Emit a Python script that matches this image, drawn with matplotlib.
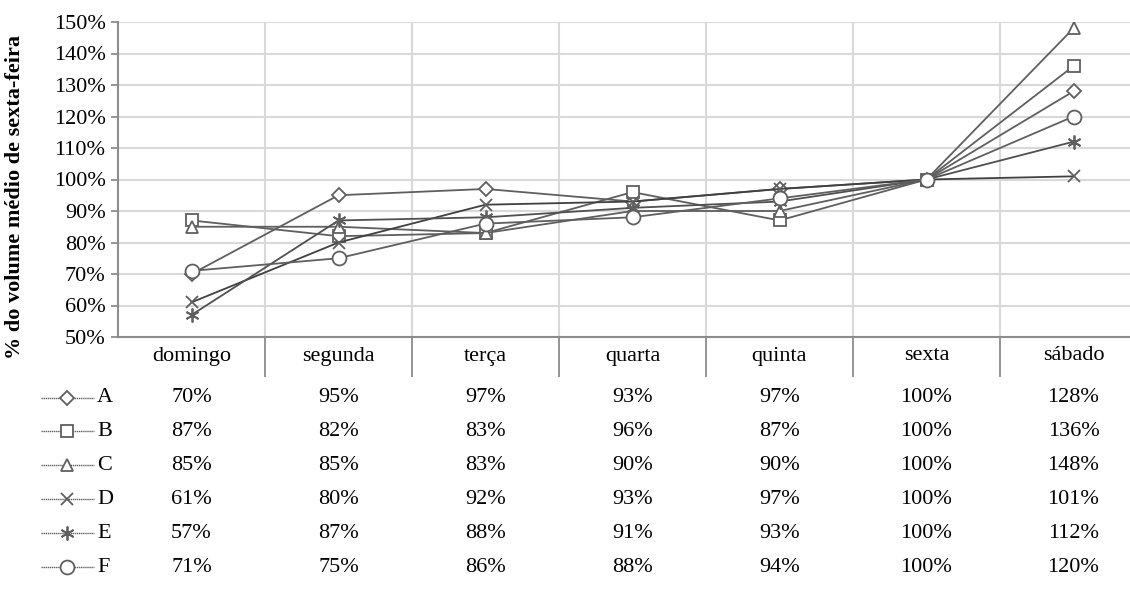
import matplotlib.pyplot as plt
from matplotlib.lines import Line2D
from matplotlib.ticker import FixedLocator

# Dados
dias = ['domingo', 'segunda', 'terça', 'quarta', 'quinta', 'sexta', 'sábado']
series = ['A', 'B', 'C', 'D', 'E', 'F']
val_a = [70, 95, 97, 93, 97, 100, 128]
val_b = [87, 82, 83, 96, 87, 100, 136]
val_c = [85, 85, 83, 90, 90, 100, 148]
val_d = [61, 80, 92, 93, 97, 100, 101]
val_e = [57, 87, 88, 91, 93, 100, 112]
val_f = [71, 75, 86, 88, 94, 100, 120]
valores = [val_a, val_b, val_c, val_d, val_e, val_f]
marcadores = ['D', 's', '^', 'x', (6, 2, 0), 'o']
tamanhos = [7.5, 9, 9, 9, 10, 10]
cores = ['#5f5f5f', '#5f5f5f', '#5f5f5f', '#404040', '#505050', '#5f5f5f']

plt.rcParams['font.family'] = ['Liberation Serif', 'DejaVu Serif']
W, H = 1130, 599
fig = plt.figure(figsize=(W / 100, H / 100), dpi=100)

# eixo (a última coluna passa um pouco da borda direita)
left, right, top, bottom = 118, 1147, 22, 337
ax = fig.add_axes([left / W, 1 - bottom / H, (right - left) / W, (bottom - top) / H])

x = list(range(len(dias)))
for nome, v, m, ms, c in zip(series, valores, marcadores, tamanhos, cores):
    ax.plot(x, v, color=c, lw=1.3, marker=m, ms=ms, mfc='white',
            mec='#5f5f5f', mew=1.3, zorder=3)

ax.set_xlim(-0.5, 6.5)
ax.set_ylim(50, 150)
ax.set_yticks(range(50, 151, 10))
ax.set_yticklabels([f'{t}%' for t in range(50, 151, 10)], fontsize=16)
ax.set_xticks([])
ax.xaxis.set_minor_locator(FixedLocator([i + 0.5 for i in range(6)]))
ax.tick_params(axis='x', which='minor', length=29, width=1.3, color='#8c8c8c')
ax.tick_params(axis='y', length=5, width=1.3, color='#8c8c8c', pad=4)
ax.grid(axis='y', color='#d9d9d9', lw=1.5, zorder=0)
ax.grid(axis='x', which='minor', color='#d9d9d9', lw=1.5, zorder=0)
for s in ['top', 'right']:
    ax.spines[s].set_visible(False)
for s in ['left', 'bottom']:
    ax.spines[s].set_color('#8c8c8c')
    ax.spines[s].set_linewidth(1.5)

fig.text(15 / W, 1 - 197 / H, '% do volume médio de sexta-feira', rotation=90,
         ha='center', va='center', fontsize=16, fontweight='bold')

# tabela de dados
col_w = (right - left) / len(dias)
for i, d in enumerate(dias):
    fig.text((left + col_w * (i + 0.5)) / W, 1 - 356 / H, d, ha='center',
             va='center', fontsize=16)

linhas_y = [398, 431, 465, 499, 533, 567]
for nome, v, m, ms, yy in zip(series, valores, marcadores, tamanhos, linhas_y):
    yf = 1 - yy / H
    fig.add_artist(Line2D([41 / W, 94 / W], [yf, yf], color='#5f5f5f', lw=1,
                          ls=(0, (1, 0.5))))
    fig.add_artist(Line2D([67 / W], [yf], marker=m, ms=ms, mfc='white',
                          mec='#5f5f5f', mew=1.3, ls='none'))
    fig.text(97 / W, yf, nome, ha='left', va='center', fontsize=16)
    for i, val in enumerate(v):
        fig.text((left + col_w * (i + 0.5)) / W, yf, f'{val}%', ha='center',
                 va='center', fontsize=16)

fig.savefig('out.png', dpi=100)
